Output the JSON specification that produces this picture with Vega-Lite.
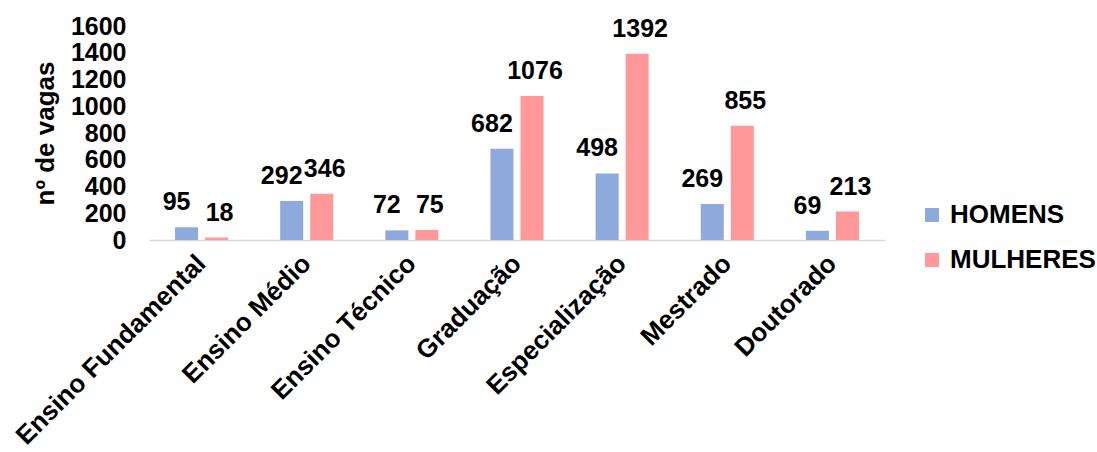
{
  "$schema": "https://vega.github.io/schema/vega-lite/v6.json",
  "autosize": "none",
  "width": 736,
  "height": 214,
  "padding": {"left": 149, "top": 26, "right": 212, "bottom": 212},
  "background": "white",
  "config": {
    "view": {"stroke": null},
    "font": "Liberation Sans"
  },
  "data": {
    "values": [
      {"nivel": "Ensino Fundamental", "sexo": "HOMENS", "vagas": 95},
      {"nivel": "Ensino Fundamental", "sexo": "MULHERES", "vagas": 18},
      {"nivel": "Ensino Médio", "sexo": "HOMENS", "vagas": 292},
      {"nivel": "Ensino Médio", "sexo": "MULHERES", "vagas": 346},
      {"nivel": "Ensino Técnico", "sexo": "HOMENS", "vagas": 72},
      {"nivel": "Ensino Técnico", "sexo": "MULHERES", "vagas": 75},
      {"nivel": "Graduação", "sexo": "HOMENS", "vagas": 682},
      {"nivel": "Graduação", "sexo": "MULHERES", "vagas": 1076},
      {"nivel": "Especialização", "sexo": "HOMENS", "vagas": 498},
      {"nivel": "Especialização", "sexo": "MULHERES", "vagas": 1392},
      {"nivel": "Mestrado", "sexo": "HOMENS", "vagas": 269},
      {"nivel": "Mestrado", "sexo": "MULHERES", "vagas": 855},
      {"nivel": "Doutorado", "sexo": "HOMENS", "vagas": 69},
      {"nivel": "Doutorado", "sexo": "MULHERES", "vagas": 213}
    ]
  },
  "encoding": {
    "x": {
      "field": "nivel",
      "type": "nominal",
      "sort": null,
      "scale": {"paddingInner": 0, "paddingOuter": 0},
      "axis": {
        "title": null,
        "labelAngle": -45,
        "labelAlign": "right",
        "labelBaseline": "middle",
        "labelFont": "Liberation Sans",
        "labelFontWeight": "bold",
        "labelFontSize": 26,
        "labelColor": "#000000",
        "labelPadding": 19,
        "labelLimit": 400,
        "ticks": false,
        "domain": true,
        "domainColor": "#D9D9D9",
        "domainWidth": 1.5,
        "grid": false
      }
    },
    "xOffset": {
      "field": "sexo",
      "type": "nominal",
      "scale": {"paddingInner": 0.233, "paddingOuter": 0.867}
    },
    "y": {
      "field": "vagas",
      "type": "quantitative",
      "scale": {"domain": [0, 1600], "nice": false},
      "axis": {
        "title": "nº de vagas",
        "titleFont": "Liberation Sans",
        "titleFontSize": 26,
        "titleFontWeight": "bold",
        "titleColor": "#000000",
        "titlePadding": 12,
        "format": "d",
        "values": [0, 200, 400, 600, 800, 1000, 1200, 1400, 1600],
        "labelFont": "Liberation Sans",
        "labelFontSize": 25,
        "labelFontWeight": "bold",
        "labelColor": "#000000",
        "labelPadding": 23,
        "labelOverlap": false,
        "labelFlush": false,
        "domain": false,
        "ticks": false,
        "grid": false
      }
    }
  },
  "layer": [
    {
      "mark": {"type": "bar"},
      "encoding": {
        "color": {
          "field": "sexo",
          "type": "nominal",
          "scale": {"domain": ["HOMENS", "MULHERES"], "range": ["#8EA9DB", "#FF9999"]},
          "legend": {
            "title": null,
            "orient": "none",
            "legendX": 770,
            "legendY": 176,
            "symbolType": "square",
            "symbolSize": 196,
            "symbolStrokeWidth": 0,
            "symbolOffset": 0,
            "labelFont": "Liberation Sans",
            "labelFontSize": 26,
            "labelFontWeight": "bold",
            "labelColor": "#000000",
            "labelOffset": 5,
            "labelLimit": 300,
            "rowPadding": 19
          }
        }
      }
    },
    {
      "transform": [{"filter": "datum.sexo === 'HOMENS'"}],
      "mark": {
        "type": "text",
        "font": "Liberation Sans",
        "fontSize": 25,
        "fontWeight": "bold",
        "color": "#000000",
        "baseline": "alphabetic",
        "dy": -17,
        "dx": -10
      },
      "encoding": {
        "text": {"field": "vagas", "type": "quantitative"}
      }
    },
    {
      "transform": [{"filter": "datum.sexo === 'MULHERES'"}],
      "mark": {
        "type": "text",
        "font": "Liberation Sans",
        "fontSize": 25,
        "fontWeight": "bold",
        "color": "#000000",
        "baseline": "alphabetic",
        "dy": -17,
        "dx": 3
      },
      "encoding": {
        "text": {"field": "vagas", "type": "quantitative"}
      }
    }
  ]
}
